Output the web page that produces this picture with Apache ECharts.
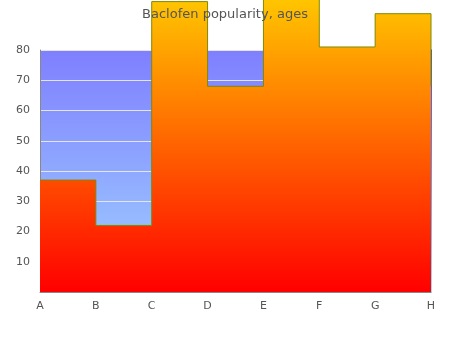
<!DOCTYPE html>
<html>
<head>
<meta charset="utf-8">
<script src="https://cdn.jsdelivr.net/npm/echarts@6/dist/echarts.min.js"></script>
<style>
  html, body { margin: 0; padding: 0; background: #fff; }
  #chart { width: 450px; height: 350px; }
</style>
</head>
<body>
<div id="chart"></div>
<script>
// Age groups along the x axis
const categories = ['A', 'B', 'C', 'D', 'E', 'F', 'G', 'H'];
// Popularity value for each age group
const popularity = [37, 22, 96, 68, 100, 81, 92, 68];
// Value axis range and step
const yMin = 0;
const yMax = 80;
const yStep = 10;

const chart = echarts.init(document.getElementById('chart'), null, { renderer: 'canvas' });

const labelFont = { color: '#555', fontSize: 11, fontFamily: 'DejaVu Sans' };

chart.setOption({
  animation: false,
  title: {
    text: 'Baclofen popularity, ages',
    left: 'center',
    top: 3,
    z: 20,
    textStyle: { color: '#555', fontSize: 13, fontWeight: 'normal', fontFamily: 'DejaVu Sans' }
  },
  grid: {
    left: 40, right: 19, top: 50, bottom: 58,
    show: true,
    borderWidth: 0,
    backgroundColor: new echarts.graphic.LinearGradient(0, 0, 0, 1, [
      { offset: 0, color: '#7f7fff' },
      { offset: 1, color: '#9fd2ff' }
    ])
  },
  xAxis: {
    type: 'category',
    data: categories,
    boundaryGap: false,
    axisLine: { lineStyle: { color: '#888' } },
    axisTick: { show: false },
    axisLabel: Object.assign({ margin: 9 }, labelFont),
    splitLine: { show: false }
  },
  yAxis: [
    {
      type: 'value',
      min: yMin, max: yMax, interval: yStep,
      axisLine: { show: true, lineStyle: { color: '#888' } },
      axisTick: { show: false },
      axisLabel: Object.assign({ showMinLabel: false, margin: 10 }, labelFont),
      splitLine: { show: true, lineStyle: { color: '#e4e4ec' } }
    },
    {
      type: 'value',
      position: 'right',
      min: yMin, max: yMax, interval: yStep,
      axisLine: {
        show: true,
        lineStyle: {
          width: 1.5,
          color: new echarts.graphic.LinearGradient(0, 0, 0, 1, [
            { offset: 0, color: '#0000ff' },
            { offset: 1, color: '#66ddff' }
          ])
        }
      },
      axisTick: { show: false },
      axisLabel: { show: false },
      splitLine: { show: false }
    }
  ],
  series: [
    {
      type: 'line',
      data: popularity,
      step: 'end',
      clip: false,
      symbol: 'none',
      z: 5,
      lineStyle: { color: '#7f8a00', width: 1 },
      areaStyle: {
        opacity: 1,
        color: new echarts.graphic.LinearGradient(0, 0, 0, 1, [
          { offset: 0, color: '#ffcc00' },
          { offset: 1, color: '#ff0000' }
        ])
      }
    }
  ]
});
</script>
</body>
</html>
